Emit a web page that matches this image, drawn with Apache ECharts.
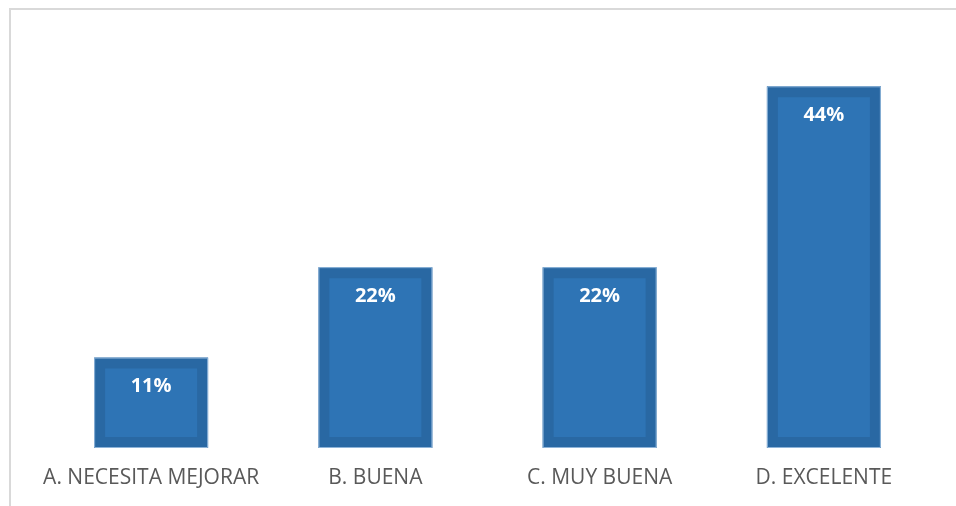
<!DOCTYPE html>
<html>
<head>
<meta charset="utf-8">
<script src="https://cdn.jsdelivr.net/npm/echarts@6/dist/echarts.min.js"></script>
<style>
html,body{margin:0;padding:0;background:#fff;}
#chart{width:956px;height:506px;}
</style>
</head>
<body>
<div id="chart"></div>
<script>
const categories = ['A. NECESITA MEJORAR', 'B. BUENA', 'C. MUY BUENA', 'D. EXCELENTE'];
const values = [11, 22, 22, 44];

const chart = echarts.init(document.getElementById('chart'));
chart.setOption({
  animation: false,
  backgroundColor: '#ffffff',
  graphic: [{
    type: 'rect',
    shape: { x: 10, y: 9, width: 2000, height: 2000 },
    style: { fill: 'none', stroke: '#d9d9d9', lineWidth: 2 },
    silent: true, z: -1
  }],
  grid: { left: 39, right: 20, top: 37, bottom: 58, containLabel: false },
  xAxis: {
    type: 'category',
    data: categories,
    axisLine: { show: false },
    axisTick: { show: false },
    axisLabel: { interval: 0, color: '#595959', fontSize: 21, fontFamily: 'Open Sans', margin: 20 }
  },
  yAxis: {
    type: 'value', min: 0, max: 50,
    show: false,
    splitLine: { show: false }
  },
  series: [{
    type: 'bar',
    data: values,
    barWidth: 114,
    itemStyle: { color: '#2E74B5', borderColor: '#2968A3', borderWidth: 11 },
    label: {
      show: true, position: 'insideTop', distance: 19,
      formatter: p => p.value + '%',
      color: '#ffffff', fontWeight: 'bold', fontSize: 20, fontFamily: 'Open Sans'
    },
    z: 2
  }, {
    type: 'bar',
    data: values,
    barWidth: 114,
    barGap: '-100%',
    itemStyle: { color: 'rgba(0,0,0,0)', borderColor: '#8db3d8', borderWidth: 1 },
    silent: true,
    z: 3
  }]
});
</script>
</body>
</html>
